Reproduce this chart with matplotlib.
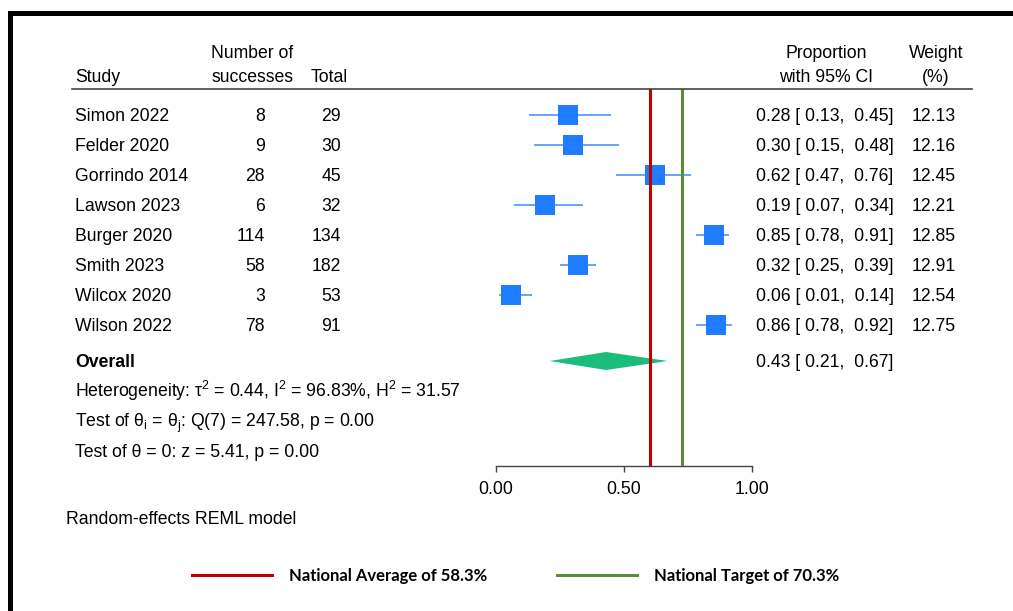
import matplotlib
matplotlib.use("Agg")
import matplotlib.pyplot as plt
from matplotlib.lines import Line2D
from matplotlib.patches import Polygon
from matplotlib.transforms import blended_transform_factory
import numpy as np

plt.rcParams['font.family'] = ['Liberation Sans', 'DejaVu Sans']
plt.rcParams['mathtext.fontset'] = 'custom'
plt.rcParams['mathtext.rm'] = 'Liberation Sans'
plt.rcParams['mathtext.it'] = 'Liberation Sans:italic'

# data
studies = ['Simon 2022', 'Felder 2020', 'Gorrindo 2014', 'Lawson 2023',
           'Burger 2020', 'Smith 2023', 'Wilcox 2020', 'Wilson 2022']
successes = [8, 9, 28, 6, 114, 58, 3, 78]
totals = [29, 30, 45, 32, 134, 182, 53, 91]
prop = [0.28, 0.30, 0.62, 0.19, 0.85, 0.32, 0.06, 0.86]
ci_low = [0.13, 0.15, 0.47, 0.07, 0.78, 0.25, 0.01, 0.78]
ci_high = [0.45, 0.48, 0.76, 0.34, 0.91, 0.39, 0.14, 0.92]
weights = [12.13, 12.16, 12.45, 12.21, 12.85, 12.91, 12.54, 12.75]
overall = (0.43, 0.21, 0.67)
national_avg = 0.60      # where the red line sits in the picture
national_target = 0.725  # where the green line sits in the picture
ticks = [0.0, 0.5, 1.0]

W, H = 1013, 611
fig = plt.figure(figsize=(W / 100, H / 100), dpi=100)
ax = fig.add_axes([496 / W, 1 - 466 / H, 256 / W, (466 - 89.3) / H])
ax.set_xlim(0, 1)
ax.set_ylim(11.7, -0.857)

rows = np.arange(len(studies))
y_overall = 8.2
fs = 12.7

# confidence intervals and squares
blue = '#1f7bff'
ax.hlines(rows, ci_low, ci_high, color='#4a95ff', lw=1.2, zorder=2)
for r, p, w in zip(rows, prop, weights):
    ax.plot(p, r, 's', color=blue, ms=14.4 * np.sqrt(w / 12.5), mew=0, zorder=3)

# overall diamond
est, lo, hi = overall
h = 0.3
ax.add_patch(Polygon([(lo, y_overall), (est, y_overall - h), (hi, y_overall), (est, y_overall + h)],
                     closed=True, color='#1cbc7c', lw=0, zorder=3))

l1 = ax.axvline(national_avg, color='#c00000', lw=2.2, zorder=4)
l2 = ax.axvline(national_target, color='#5b8c3a', lw=2.2, zorder=4)

for s in ['top', 'left', 'right']:
    ax.spines[s].set_visible(False)
ax.spines['bottom'].set_bounds(0, 1)
ax.spines['bottom'].set_color('#444444')
ax.spines['bottom'].set_linewidth(1.0)
ax.set_yticks([])
ax.set_xticks(ticks)
ax.set_xticklabels(['%.2f' % t for t in ticks])
ax.tick_params(axis='x', labelsize=fs, length=4.5, width=1.0, color='#444444', pad=6)

# text columns, placed on the baseline so super/subscripts don't shift rows
tr = blended_transform_factory(fig.transFigure, ax.transData)
base = 0.21
def txt(xpx, y, s, ha='left', **kw):
    ax.text(xpx / W, y + base, s, transform=tr, ha=ha, va='baseline', fontsize=fs, clip_on=False, **kw)

y_h1, y_h2 = -2.1, -1.3
txt(75, y_h2, 'Study')
txt(252.5, y_h1, 'Number of', ha='center')
txt(252.5, y_h2, 'successes', ha='center')
txt(329.5, y_h2, 'Total', ha='center')
txt(826, y_h1, 'Proportion', ha='center')
txt(826, y_h2, 'with 95% CI', ha='center')
txt(936, y_h1, 'Weight', ha='center')
txt(936, y_h2, '(%)', ha='center')

for r in rows:
    txt(75, r, studies[r])
    txt(265, r, str(successes[r]), ha='right')
    txt(341, r, str(totals[r]), ha='right')
    txt(756, r, '%.2f [ %.2f,  %.2f]' % (prop[r], ci_low[r], ci_high[r]))
    txt(956, r, '%.2f' % weights[r], ha='right')

txt(75, y_overall, 'Overall', fontweight='bold')
txt(756, y_overall, '%.2f [ %.2f,  %.2f]' % overall)
txt(75, 9.2, r'Heterogeneity: τ$^\mathregular{2}$ = 0.44, I$^\mathregular{2}$ = 96.83%, H$^\mathregular{2}$ = 31.57')
txt(75, 10.2, r'Test of θ$_\mathregular{i}$ = θ$_\mathregular{j}$: Q(7) = 247.58, p = 0.00')
txt(75, 11.2, 'Test of θ = 0: z = 5.41, p = 0.00')

fig.text(66 / W, 1 - 520 / H, 'Random-effects REML model', fontsize=fs, va='center')

# header rule
fig.add_artist(Line2D([72 / W, 972 / W], [1 - 89.3 / H] * 2, color='#444444', lw=1.2))

# frame
fig.add_artist(Line2D([9.8 / W, 1.0], [1 - 12.5 / H] * 2, color='black', lw=3.6, solid_capstyle='projecting'))
fig.add_artist(Line2D([9.8 / W] * 2, [0, 1 - 12.5 / H], color='black', lw=3.6, solid_capstyle='projecting'))

fig.legend([l1, l2], ['National Average of 58.3%', 'National Target of 70.3%'],
           loc='center', bbox_to_anchor=(515.5 / W, 1 - 576 / H), ncol=2, frameon=False,
           handlelength=4.8, handletextpad=1.0, columnspacing=4.2,
           prop={'family': 'Lato', 'weight': 'bold', 'size': 12})

fig.savefig('out.png', dpi=100)
